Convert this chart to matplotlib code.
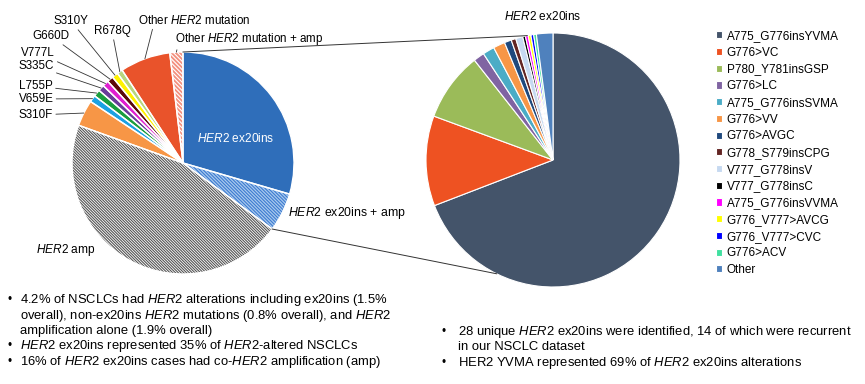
import numpy as np
import matplotlib
matplotlib.use('Agg')
import matplotlib.pyplot as plt

plt.rcParams['font.family'] = 'Liberation Sans'
plt.rcParams['mathtext.fontset'] = 'custom'
plt.rcParams['mathtext.rm'] = 'Liberation Sans'
plt.rcParams['mathtext.it'] = 'Liberation Sans:italic'
plt.rcParams['hatch.linewidth'] = 0.8

# left pie: all HER2-altered NSCLC (%)
left_labels = [r'$\it{HER2}$ ex20ins', r'$\it{HER2}$ ex20ins + amp', r'$\it{HER2}$ amp',
               'S310F', 'V659E', 'L755P', 'S335C', 'V777L', 'G660D', 'S310Y', 'R678Q',
               r'Other $\it{HER2}$ mutation', r'Other $\it{HER2}$ mutation + amp']
left_values = [29.4, 5.6, 45.2, 3.8, 1.0, 1.0, 0.9, 0.9, 0.9, 0.9, 0.8, 7.3, 1.9]
left_colors = ['#2F6EBA', '#A9C9EE', 'white', '#F79646', '#1BA1E2', '#1B9E3E', '#6A3D9A',
               '#E020D0', '#5B0A0A', '#FFF200', '#B8D67E', '#E9532B', '#F3907E']
left_hatch = [None, '\\' * 10, '\\' * 12, None, None, None, None, None, None, None, None, None, '\\' * 8]
left_hatch_colors = [None, '#3C7BD0', '#555555', None, None, None, None, None, None, None, None, None, 'white']

# right pie: HER2 ex20ins variants (%)
right_labels = ['A775_G776insYVMA', 'G776>VC', 'P780_Y781insGSP', 'G776>LC', 'A775_G776insSVMA',
                'G776>VV', 'G776>AVGC', 'G778_S779insCPG', 'V777_G778insV', 'V777_G778insC',
                'A775_G776insVVMA', 'G776_V777>AVCG', 'G776_V777>CVC', 'G776>ACV', 'Other']
right_values = [69.4, 11.5, 8.8, 1.4, 1.5, 1.5, 0.9, 0.6, 0.9, 0.35, 0.35, 0.35, 0.35, 0.35, 2.1]
right_colors = ['#44546A', '#EE5222', '#9BBB59', '#8064A2', '#4BACC6', '#F79646', '#1F497D',
                '#632523', '#C6D9F1', '#000000', '#FF00FF', '#FFFF00', '#0000FF', '#40E0A0', '#4F81BD']

bullets_left = [
    r'4.2% of NSCLCs had $\it{HER2}$ alterations including ex20ins (1.5%',
    r'overall), non-ex20ins $\it{HER2}$ mutations (0.8% overall), and $\it{HER2}$',
    'amplification alone (1.9% overall)',
    r'$\it{HER2}$ ex20ins represented 35% of $\it{HER2}$-altered NSCLCs',
    r'16% of $\it{HER2}$ ex20ins cases had co-$\it{HER2}$ amplification (amp)',
]
bullet_left_marks = [True, False, False, True, True]
bullets_right = [
    r'28 unique $\it{HER2}$ ex20ins were identified, 14 of which were recurrent',
    'in our NSCLC dataset',
    r'HER2 YVMA represented 69% of $\it{HER2}$ ex20ins alterations',
]
bullet_right_marks = [True, False, True]

W, H = 865, 384


def py(y):
    return H - y


fig = plt.figure(figsize=(8.65, 3.84), dpi=100)
ax = fig.add_axes([0, 0, 1, 1])

lc, lr = (183, py(163)), 111
rc, rr = (553, py(160)), 127

# left pie
lw_, _ = ax.pie(left_values, colors=left_colors, startangle=90, counterclock=False,
                center=lc, radius=lr, wedgeprops=dict(linewidth=0))
for w, h, hc in zip(lw_, left_hatch, left_hatch_colors):
    if h:
        w.set_hatch(h)
        w.set_edgecolor(hc)
ax.pie(left_values, startangle=90, counterclock=False, center=lc, radius=lr,
       wedgeprops=dict(fill=False, edgecolor='white', linewidth=1))

# right pie
rw, _ = ax.pie(right_values, colors=right_colors, startangle=90, counterclock=False,
               center=rc, radius=rr, wedgeprops=dict(edgecolor='white', linewidth=0.8))

# labels with leader lines for the small slices
label_pos = {3: (36, 115), 4: (36, 99), 5: (36, 86), 6: (36, 66), 7: (38, 53),
             8: (51, 36), 9: (71, 21), 10: (112, 31)}
for i, (tx, ty) in label_pos.items():
    w = lw_[i]
    a = np.deg2rad((w.theta1 + w.theta2) / 2)
    xy = (lc[0] + lr * np.cos(a), lc[1] + lr * np.sin(a))
    ax.annotate(left_labels[i], xy=xy, xytext=(tx, py(ty)), ha='center', va='center',
                fontsize=8.4, arrowprops=dict(arrowstyle='-', color='#333333', lw=0.6,
                                              shrinkA=0, shrinkB=0))

for i, (tx, ty, rp) in {11: (138, 20, 0.15), 12: (175, 39, 0.03)}.items():
    w = lw_[i]
    a = np.deg2rad((w.theta1 + w.theta2) / 2)
    xy = (lc[0] + lr * np.cos(a), lc[1] + lr * np.sin(a))
    ax.annotate(left_labels[i], xy=xy, xytext=(tx, py(ty)), ha='left', va='center',
                fontsize=8.4, arrowprops=dict(arrowstyle='-', color='#333333', lw=0.6,
                                              shrinkA=0, shrinkB=0, relpos=(rp, 0.5)))

ax.text(236, py(138), left_labels[0], color='white', fontsize=8.6, ha='center', va='center')
ax.text(288, py(213), left_labels[1], fontsize=8.8, ha='left', va='center')
ax.text(36, py(250), left_labels[2], fontsize=8.6, ha='left', va='center')
ax.text(543, py(17), r'$\it{HER2}$ ex20ins', fontsize=8.6, ha='center', va='center')

# connector lines between the two pies
a_top = np.deg2rad(lw_[0].theta2)
a_bot = np.deg2rad(lw_[1].theta1)
p1 = (lc[0] + lr * np.cos(a_top), lc[1] + lr * np.sin(a_top))
p2 = (lc[0] + lr * np.cos(a_bot), lc[1] + lr * np.sin(a_bot))
q1 = (rc[0] + rr * np.cos(np.deg2rad(101.7)), rc[1] + rr * np.sin(np.deg2rad(101.7)))
q2 = (rc[0] + rr * np.cos(np.deg2rad(243.6)), rc[1] + rr * np.sin(np.deg2rad(243.6)))
ax.plot([p1[0], q1[0]], [p1[1], q1[1]], color='#333333', lw=0.7)
ax.plot([p2[0], q2[0]], [p2[1], q2[1]], color='#333333', lw=0.7)

# legend
ax.legend(rw, right_labels, loc='upper left', bbox_to_anchor=(716 / W, py(30) / H),
          frameon=False, fontsize=8.5, handlelength=0.55, handleheight=0.55,
          handletextpad=0.35, labelspacing=0.4, borderpad=0, borderaxespad=0)

# bullet text
for k, (t, m) in enumerate(zip(bullets_left, bullet_left_marks)):
    y = py(300 + k * 15.5)
    if m:
        ax.text(7, y, '\u2022', fontsize=8.5, ha='left', va='center')
    ax.text(20, y, t, fontsize=9.4, ha='left', va='center')
for k, (t, m) in enumerate(zip(bullets_right, bullet_right_marks)):
    y = py(332 + k * 15.5)
    if m:
        ax.text(441, y, '\u2022', fontsize=8.5, ha='left', va='center')
    ax.text(458, y, t, fontsize=9.4, ha='left', va='center')

ax.set_xlim(0, W)
ax.set_ylim(0, H)
ax.set_aspect('equal')
ax.axis('off')
fig.savefig('out.png', dpi=100)
